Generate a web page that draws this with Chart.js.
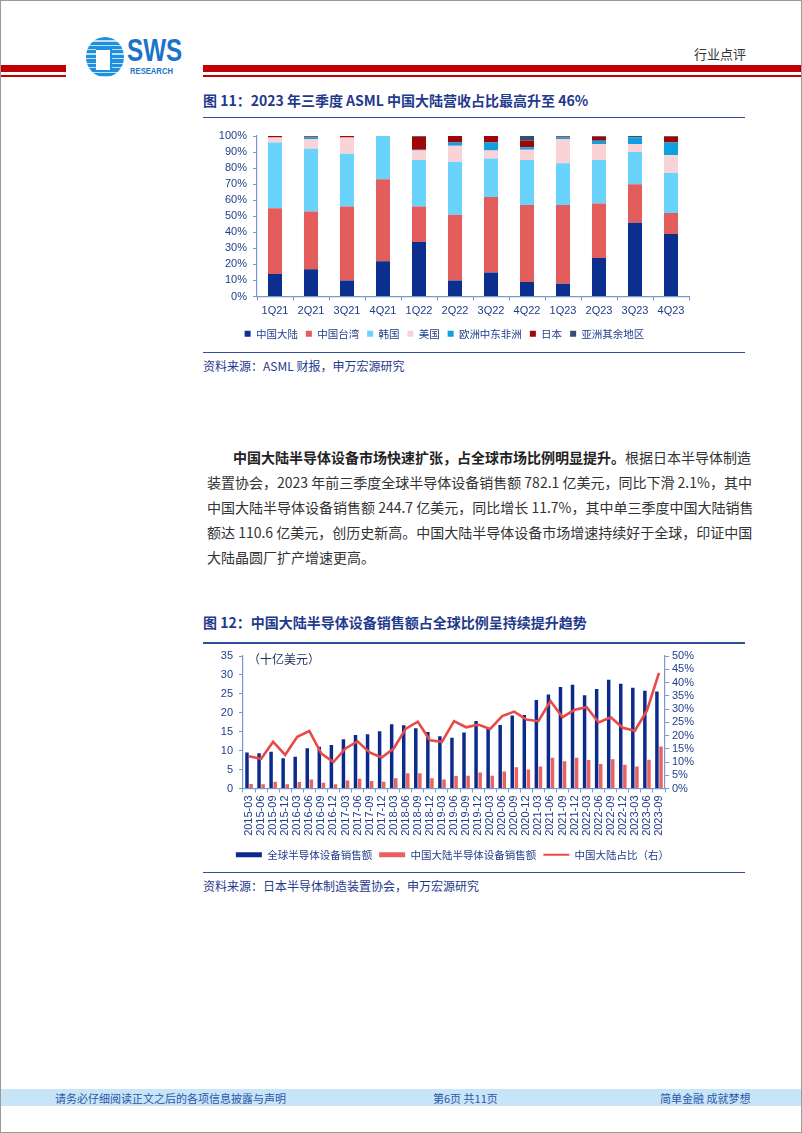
<!DOCTYPE html>
<html><head><meta charset="utf-8">
<script src="https://cdn.jsdelivr.net/npm/chart.js@4"></script>
<style>
body{margin:0;background:#fff;}
#page{position:relative;width:802px;height:1133px;overflow:hidden;background:#fff;font-family:'Noto Sans CJK SC','Liberation Sans',sans-serif;}
.abs{position:absolute;}
.frame{position:absolute;left:0;top:0;width:800px;height:1131px;border:1px solid #9a9a9a;pointer-events:none;}
.title{position:absolute;left:203px;font-size:14px;font-weight:bold;color:#1f3a8c;white-space:nowrap;line-height:20px;}
.src{position:absolute;left:203px;font-size:12px;color:#1f3a8c;white-space:nowrap;line-height:16px;}
.hline{position:absolute;left:203px;width:542px;height:1px;background:#2f4f9c;}
.bl{position:absolute;font-size:14px;color:#333;white-space:nowrap;line-height:20px;text-align:justify;text-align-last:justify;}
.foot{position:absolute;top:1091px;font-size:11px;color:#2b56a8;line-height:14px;white-space:nowrap;}
</style></head>
<body>
<div id="page">
  <!-- header -->
  <div class="abs" style="left:0;top:65px;width:66px;height:7px;background:#c00000"></div>
  <div class="abs" style="left:0;top:75px;width:66px;height:1.5px;background:#c00000"></div>
  <div class="abs" style="left:203px;top:65px;width:599px;height:7px;background:#c00000"></div>
  <div class="abs" style="left:203px;top:75px;width:599px;height:1.5px;background:#c00000"></div>
  <div class="abs" style="left:86px;top:37px;width:38px;height:40px;border-radius:50%;background:repeating-linear-gradient(180deg,#1f8fe0 0 3px,#bfe0f7 3px 4.5px);"></div>
  <div class="abs" style="left:96px;top:48px;width:14px;height:20px;background:#fff;border:2px solid #1f8fe0;border-left:none;"></div>
  <div class="abs" style="left:127px;top:33px;font-family:'Liberation Sans',sans-serif;font-weight:bold;font-size:31px;color:#1a73c9;transform:scaleX(0.78);transform-origin:left top;line-height:36px;">SWS</div>
  <div class="abs" style="left:130px;top:66px;font-family:'Liberation Sans',sans-serif;font-weight:bold;font-size:9px;color:#1a73c9;transform:scaleX(0.85);transform-origin:left top;line-height:10px;">RESEARCH</div>
  <div class="abs" style="left:694px;top:46px;font-size:13px;color:#333;line-height:16px;">行业点评</div>

  <!-- figure 11 -->
  <div class="title" style="top:90px;">图 11：2023 年三季度 ASML 中国大陆营收占比最高升至 46%</div>
  <div class="hline" style="top:117px;"></div>
  <div class="abs" style="left:200px;top:118px;width:520px;height:231px;"><canvas id="c1"></canvas></div>
  <div class="hline" style="top:352px;"></div>
  <div class="src" style="top:358px;">资料来源：ASML 财报，申万宏源研究</div>

  <!-- body text -->
  <div class="bl" style="left:233px;top:447px;width:512px;"><b style="color:#222">中国大陆半导体设备市场快速扩张，占全球市场比例明显提升。</b>根据日本半导体制造</div>
  <div class="bl" style="left:207px;top:472px;width:538px;">装置协会，2023 年前三季度全球半导体设备销售额 782.1 亿美元，同比下滑 2.1%，其中</div>
  <div class="bl" style="left:207px;top:497px;width:538px;">中国大陆半导体设备销售额 244.7 亿美元，同比增长 11.7%，其中单三季度中国大陆销售</div>
  <div class="bl" style="left:207px;top:522px;width:538px;">额达 110.6 亿美元，创历史新高。中国大陆半导体设备市场增速持续好于全球，印证中国</div>
  <div class="bl" style="left:207px;top:547px;text-align:left;text-align-last:left;">大陆晶圆厂扩产增速更高。</div>

  <!-- figure 12 -->
  <div class="title" style="top:612px;">图 12：中国大陆半导体设备销售额占全球比例呈持续提升趋势</div>
  <div class="hline" style="top:642px;height:1.5px;"></div>
  <div class="abs" style="left:200px;top:643px;width:520px;height:227px;"><canvas id="c2"></canvas></div>
  <div class="abs" style="left:248px;top:651px;font-size:12px;color:#1f2f5c;line-height:16px;">（十亿美元）</div>
  <div class="hline" style="top:872px;"></div>
  <div class="src" style="top:878px;">资料来源：日本半导体制造装置协会，申万宏源研究</div>

  <!-- footer -->
  <div class="abs" style="left:1px;top:1089px;width:800px;height:17px;background:#c8e5f8"></div>
  <div class="foot" style="left:55px;">请务必仔细阅读正文之后的各项信息披露与声明</div>
  <div class="foot" style="left:433px;">第6页 共11页</div>
  <div class="foot" style="left:660px;">简单金融 成就梦想</div>
  <div class="frame"></div>
</div>
<script>
// ---------- Figure 11 data ----------
const quarters = ['1Q21','2Q21','3Q21','4Q21','1Q22','2Q22','3Q22','4Q22','1Q23','2Q23','3Q23','4Q23'];
const mainland = [14, 17, 10, 22, 34, 10, 15, 9, 8, 24, 46, 39];
const taiwan   = [41, 36, 46, 51, 22, 41, 47, 48, 49, 34, 24, 13];
const korea    = [41, 39, 33, 27, 29, 33, 24, 28, 26, 27, 20, 25];
const usa      = [3, 6, 10, 0, 6, 10, 5, 6.5, 15, 10, 5, 11];
const emea     = [0, 1, 0, 0, 0.5, 2, 5, 1.5, 1, 2, 4, 8];
const japan    = [1, 0.5, 1, 0, 8, 4, 4, 4, 0.5, 2.5, 0, 3.5];
const restAsia = [0, 0.5, 0, 0, 0.5, 0, 0, 3, 0.5, 0.5, 1, 0.5];
const pctTicks = [0,10,20,30,40,50,60,70,80,90,100];

// ---------- Figure 12 data ----------
const months = ['2015-03','2015-06','2015-09','2015-12','2016-03','2016-06','2016-09','2016-12',
 '2017-03','2017-06','2017-09','2017-12','2018-03','2018-06','2018-09','2018-12',
 '2019-03','2019-06','2019-09','2019-12','2020-03','2020-06','2020-09','2020-12',
 '2021-03','2021-06','2021-09','2021-12','2022-03','2022-06','2022-09','2022-12',
 '2023-03','2023-06','2023-09'];
const globalSales = [9.5, 9.3, 9.7, 8.0, 8.4, 10.6, 11.0, 11.5, 13.0, 14.1, 14.3, 15.1,
 17.0, 16.7, 15.9, 14.9, 13.8, 13.4, 14.8, 17.8, 15.7, 16.8, 19.3, 19.4,
 23.4, 24.8, 26.8, 27.4, 24.6, 26.3, 28.7, 27.7, 26.6, 25.8, 25.6];
const chinaSales = [1.2, 1.1, 1.8, 1.1, 1.7, 2.4, 1.5, 1.1, 2.1, 2.6, 2.0, 1.8,
 2.7, 4.0, 4.0, 2.7, 2.4, 3.3, 3.4, 4.2, 3.4, 4.5, 5.6, 5.0,
 5.8, 8.1, 7.2, 8.1, 7.5, 6.5, 7.7, 6.3, 5.8, 7.6, 11.1];
const chinaShare = [12.2, 11.2, 17.6, 12.7, 19.5, 21.7, 13.2, 10.0, 15.1, 17.8, 13.6, 11.7,
 15.1, 22.6, 25.2, 18.2, 17.6, 25.4, 23.1, 24.1, 22.5, 27.3, 29.0, 26.0,
 25.4, 33.0, 26.9, 29.7, 30.7, 24.9, 26.9, 22.9, 21.8, 29.4, 43.6];

const NAVY = '#203d8a';
const AXIS = '#7d98cf';
const FONT = "'Liberation Sans','Noto Sans CJK SC',sans-serif";
const LFONT = "'Noto Sans CJK SC','Liberation Sans',sans-serif";

new Chart(document.getElementById('c1'), {
  type: 'bar',
  data: {
    labels: quarters,
    datasets: [
      {label:'中国大陆', data: mainland, backgroundColor:'#0a2f8f'},
      {label:'中国台湾', data: taiwan, backgroundColor:'#e45d5d'},
      {label:'韩国', data: korea, backgroundColor:'#6ad3fb'},
      {label:'美国', data: usa, backgroundColor:'#f9d3d6'},
      {label:'欧洲中东非洲', data: emea, backgroundColor:'#109fe0'},
      {label:'日本', data: japan, backgroundColor:'#a00606'},
      {label:'亚洲其余地区', data: restAsia, backgroundColor:'#34506f'}
    ]
  },
  options: {
    responsive:true, maintainAspectRatio:false, animation:false,
    layout:{padding:{top:18,right:31,bottom:0,left:0}},
    datasets:{bar:{barPercentage:0.39, categoryPercentage:1}},
    plugins:{
      tooltip:{enabled:false},
      legend:{position:'bottom', labels:{boxWidth:6, boxHeight:6, padding:8, color:NAVY, font:{family:LFONT, size:10.5}}}
    },
    scales:{
      x:{stacked:true, border:{color:AXIS, width:1.2},
         grid:{drawOnChartArea:false, drawTicks:true, tickLength:4, color:AXIS, offset:true},
         ticks:{color:NAVY, font:{family:FONT, size:11}, padding:4, maxRotation:0},
         afterFit(s){ s.height = 24; }},
      y:{stacked:true, min:0, max:100, border:{color:AXIS, width:1.2},
         grid:{drawOnChartArea:false, drawTicks:true, tickLength:4, color:AXIS},
         afterBuildTicks(s){ s.ticks = pctTicks.map(v=>({value:v})); },
         ticks:{autoSkip:false, color:NAVY, font:{family:FONT, size:11}, padding:6, callback:v=>v+'%'},
         afterFit(s){ s.width = 57; }}
    }
  }
});

new Chart(document.getElementById('c2'), {
  data: {
    labels: months,
    datasets: [
      {type:'bar', label:'全球半导体设备销售额', data: globalSales, backgroundColor:'#0b2b8c', yAxisID:'y', order:2},
      {type:'bar', label:'中国大陆半导体设备销售额', data: chinaSales, backgroundColor:'#e8625f', yAxisID:'y', order:2},
      {type:'line', label:'中国大陆占比（右）', data: chinaShare, borderColor:'#e84a4a', backgroundColor:'#e84a4a',
       borderWidth:2.6, pointRadius:0, tension:0, yAxisID:'y1', order:0}
    ]
  },
  options: {
    responsive:true, maintainAspectRatio:false, animation:false,
    layout:{padding:{top:13,right:15,bottom:0,left:0}},
    datasets:{bar:{barPercentage:0.85, categoryPercentage:0.68}},
    plugins:{
      tooltip:{enabled:false},
      legend:{position:'bottom', labels:{
        usePointStyle:true, pointStyleWidth:26, boxHeight:5, padding:7, color:NAVY,
        font:{family:LFONT, size:10.5},
        generateLabels(chart){
          return chart.data.datasets.map((ds,i)=>({
            text: ds.label,
            fillStyle: ds.type==='line' ? ds.borderColor : ds.backgroundColor,
            strokeStyle: ds.type==='line' ? ds.borderColor : ds.backgroundColor,
            lineWidth: ds.type==='line' ? 2 : 0,
            pointStyle: ds.type==='line' ? 'line' : 'rect',
            fontColor: NAVY, hidden:false, datasetIndex:i
          }));
        }
      }}
    },
    scales:{
      x:{border:{color:AXIS, width:1.2},
         grid:{drawOnChartArea:false, drawTicks:true, tickLength:4, color:AXIS, offset:true},
         ticks:{color:NAVY, font:{family:FONT, size:11}, padding:3, autoSkip:false, minRotation:90, maxRotation:90},
         afterFit(s){ s.height = 54; }},
      y:{position:'left', min:0, max:35, border:{color:AXIS, width:1.2},
         grid:{drawOnChartArea:false, drawTicks:true, tickLength:4, color:AXIS},
         ticks:{stepSize:5, autoSkip:false, color:NAVY, font:{family:FONT, size:11}, padding:6},
         afterFit(s){ s.width = 43; }},
      y1:{position:'right', min:0, max:50, border:{color:AXIS, width:1.2},
         grid:{drawOnChartArea:false, drawTicks:true, tickLength:4, color:AXIS},
         ticks:{stepSize:5, autoSkip:false, color:NAVY, font:{family:FONT, size:11}, padding:3, callback:v=>v+'%'},
         afterFit(s){ s.width = 40; }}
    }
  }
});
</script>
</body></html>
